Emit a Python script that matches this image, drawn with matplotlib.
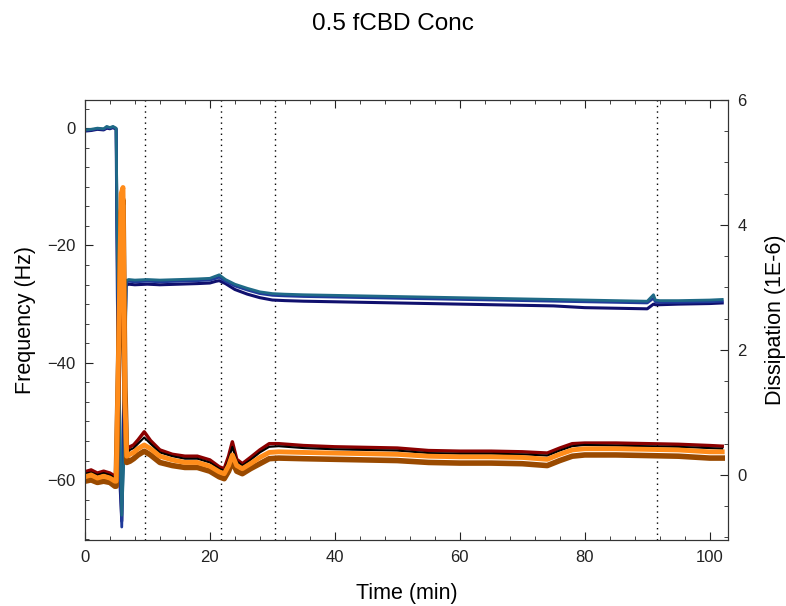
import numpy as np
import matplotlib.pyplot as plt
from matplotlib.ticker import MultipleLocator

plt.rcParams['font.family'] = ['Liberation Sans', 'DejaVu Sans']

# Frequency (Hz), several overtones
t_f = [0, 1, 2, 3, 3.5, 4, 4.5, 5.0, 5.2, 5.5, 5.9, 6.3, 6.6, 7.0, 8, 10, 12, 15, 18, 20,
       21, 21.5, 22.5, 24, 26, 28, 30, 32, 35, 40, 45, 50, 55, 60, 65, 70, 75, 80, 85, 90,
       91, 91.3, 92, 95, 100, 102]
f_teal = [-0.3, -0.2, 0.0, -0.1, 0.3, 0.1, 0.3, 0.0, -20, -45, -66, -55, -26.0, -25.8, -25.9,
          -25.8, -25.9, -25.8, -25.7, -25.6, -25.2, -25.0, -25.8, -26.6, -27.3, -27.9, -28.2,
          -28.3, -28.4, -28.5, -28.6, -28.7, -28.8, -28.9, -29.0, -29.1, -29.2, -29.3, -29.4,
          -29.5, -28.4, -29.3, -29.4, -29.4, -29.3, -29.2]
f_blue = [-0.4, -0.3, -0.1, -0.2, 0.1, 0.0, 0.2, -0.1, -24, -52, -68, -48, -26.3, -26.1, -26.2,
          -26.1, -26.2, -26.1, -26.0, -25.9, -25.6, -25.4, -26.1, -26.9, -27.6, -28.2, -28.5,
          -28.6, -28.7, -28.8, -28.9, -29.0, -29.1, -29.2, -29.3, -29.4, -29.5, -29.6, -29.7,
          -29.8, -29.0, -29.6, -29.7, -29.7, -29.6, -29.5]
f_navy = [-0.5, -0.4, -0.2, -0.3, 0.0, -0.1, 0.1, -0.2, -28, -58, -67, -40, -26.8, -26.6, -26.7,
          -26.6, -26.7, -26.6, -26.5, -26.4, -26.1, -26.0, -26.5, -27.5, -28.3, -28.9, -29.3,
          -29.4, -29.5, -29.6, -29.7, -29.8, -29.9, -30.0, -30.1, -30.2, -30.3, -30.6, -30.7,
          -30.8, -30.0, -30.1, -30.1, -30.0, -29.9, -29.8]

# Dissipation (1E-6)
t_d = [0, 1, 2, 3, 4, 4.8, 5.0, 5.4, 5.8, 6.1, 6.4, 6.7, 7.2, 7.8, 8.5, 9.5, 10.5, 12, 14, 16,
       18, 20, 21.5, 22.3, 23.0, 23.6, 24.3, 25.2, 26.5, 28, 29.5, 31, 35, 40, 45, 50, 55, 60,
       65, 70, 74, 76, 78, 80, 85, 90, 95, 100, 102]
d_orange = [-0.03, 0.0, -0.05, -0.02, -0.05, -0.1, -0.1, 2.0, 4.5, 4.6, 1.2, 0.3, 0.33, 0.36,
            0.42, 0.48, 0.42, 0.30, 0.24, 0.20, 0.20, 0.14, 0.05, 0.02, 0.15, 0.32, 0.15, 0.10,
            0.18, 0.28, 0.36, 0.37, 0.36, 0.35, 0.34, 0.33, 0.30, 0.29, 0.29, 0.28, 0.25, 0.33,
            0.40, 0.42, 0.42, 0.41, 0.40, 0.37, 0.37]
d_red = [0.05, 0.08, 0.03, 0.06, 0.03, -0.02, -0.02, 1.5, 4.0, 4.2, 1.0, 0.4, 0.45, 0.48, 0.56,
         0.69, 0.55, 0.40, 0.33, 0.30, 0.30, 0.24, 0.13, 0.10, 0.30, 0.53, 0.25, 0.18, 0.28,
         0.40, 0.50, 0.50, 0.47, 0.45, 0.44, 0.43, 0.39, 0.38, 0.38, 0.37, 0.35, 0.43, 0.50,
         0.51, 0.51, 0.50, 0.49, 0.47, 0.46]
d_black = [0.02, 0.04, 0.0, 0.03, 0.0, -0.05, -0.05, 1.2, 3.5, 3.8, 0.8, 0.35, 0.40, 0.43, 0.50,
           0.60, 0.50, 0.36, 0.30, 0.26, 0.26, 0.20, 0.10, 0.07, 0.24, 0.45, 0.22, 0.15, 0.24,
           0.36, 0.45, 0.46, 0.43, 0.41, 0.40, 0.39, 0.35, 0.34, 0.34, 0.33, 0.31, 0.39, 0.46,
           0.48, 0.47, 0.46, 0.45, 0.43, 0.42]
d_brown = [-0.1, -0.08, -0.12, -0.1, -0.12, -0.18, -0.18, 1.8, 4.2, 4.4, 1.4, 0.2, 0.22, 0.26,
           0.32, 0.38, 0.32, 0.20, 0.15, 0.12, 0.12, 0.06, -0.03, -0.06, 0.06, 0.22, 0.06, 0.02,
           0.10, 0.18, 0.26, 0.27, 0.26, 0.25, 0.24, 0.23, 0.20, 0.19, 0.19, 0.18, 0.15, 0.23,
           0.30, 0.32, 0.32, 0.31, 0.30, 0.27, 0.27]

event_times = [9.6, 21.8, 30.5, 91.5]

fig = plt.figure(figsize=(7.86, 6.06), dpi=100)
ax = fig.add_axes([0.108, 0.109, 0.818, 0.726])
ax2 = ax.twinx()

for x in event_times:
    ax.axvline(x, color='black', linestyle=(0, (1, 3)), linewidth=1, zorder=0)

ax.plot(t_f, f_navy, color='#10106e', linewidth=2.2)
ax.plot(t_f, f_blue, color='#1f3a9a', linewidth=2.0)
ax.plot(t_f, f_teal, color='#1f6a86', linewidth=2.0)

ax2.plot(t_d, d_brown, color='#9a4a00', linewidth=4)
ax2.plot(t_d, d_red, color='#8b0000', linewidth=2.5)
ax2.plot(t_d, d_black, color='black', linewidth=1.5)
ax2.plot(t_d, d_orange, color='#ff8c1a', linewidth=3.5)

ax.set_xlim(0, 102.9)
ax.set_ylim(-70.2, 4.8)
ax2.set_ylim(-1.04, 6)

ax.xaxis.set_major_locator(MultipleLocator(20))
ax.xaxis.set_minor_locator(MultipleLocator(4))
ax.yaxis.set_major_locator(MultipleLocator(20))
ax.yaxis.set_minor_locator(MultipleLocator(20 / 6))
ax2.yaxis.set_major_locator(MultipleLocator(2))
ax2.yaxis.set_minor_locator(MultipleLocator(0.5))

ax.tick_params(which='both', direction='in', top=True, right=False, labelsize=12,
               colors='#222222', pad=7)
ax.tick_params(which='major', length=6)
ax.tick_params(which='minor', length=3)
ax2.tick_params(which='both', direction='in', labelsize=12, colors='#222222', pad=7)
ax2.tick_params(which='major', length=6)
ax2.tick_params(which='minor', length=3)
for a in (ax, ax2):
    for s in a.spines.values():
        s.set_color('#333333')

ax.set_xlabel('Time (min)', fontsize=15.5, labelpad=13)
ax.set_ylabel('Frequency (Hz)', fontsize=15.5, labelpad=8)
ax2.set_ylabel('Dissipation (1E-6)', fontsize=15.5, labelpad=13)
fig.suptitle('0.5 fCBD Conc', fontsize=17.5, y=0.978)

fig.savefig('out.png', dpi=100)
